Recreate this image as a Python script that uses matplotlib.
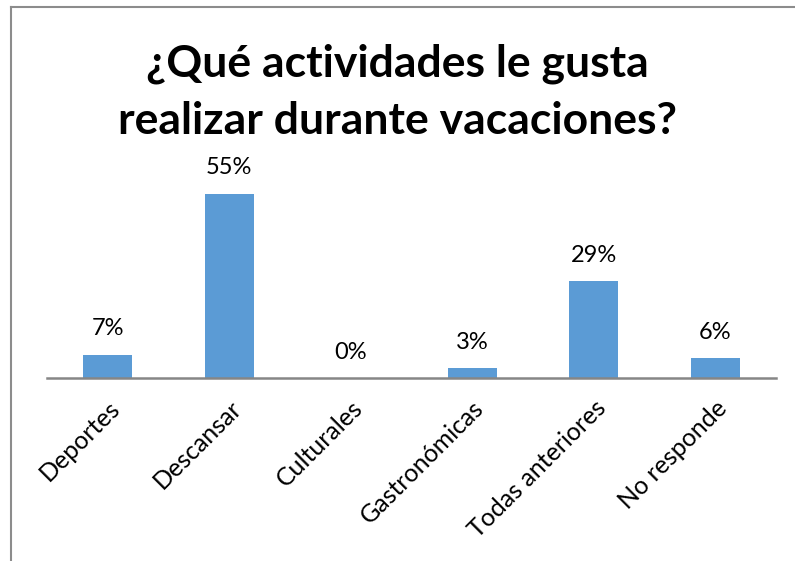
import matplotlib
matplotlib.use('Agg')
import matplotlib.pyplot as plt
from matplotlib.lines import Line2D

# datos de la encuesta
categorias = ['Deportes', 'Descansar', 'Culturales', 'Gastronómicas',
              'Todas anteriores', 'No responde']
porcentajes = [7, 55, 0, 3, 29, 6]
titulo = '¿Qué actividades le gusta\nrealizar durante vacaciones?'

plt.rcParams['font.family'] = ['Lato', 'DejaVu Sans']

fig = plt.figure(figsize=(7.95, 5.61), dpi=100)
ax = fig.add_axes([47/795, 1 - 378/561, (776 - 47)/795, (378 - 177)/561])

x = range(len(categorias))
ax.bar(x, porcentajes, width=0.4, color='#5B9BD5')
for xi, p in zip(x, porcentajes):
    ax.annotate(f'{p}%', (xi, p), xytext=(0, 11), textcoords='offset points',
                ha='center', va='bottom', fontsize=17, color='black')

ax.set_xlim(-0.5, len(categorias) - 0.5)
ax.set_ylim(0, 60)
ax.set_yticks([])
ax.set_xticks(list(x))
ax.set_xticklabels(categorias, rotation=45, ha='right', rotation_mode='anchor',
                   fontsize=18)
ax.tick_params(axis='x', length=0, pad=13)
for s in ['top', 'right', 'left']:
    ax.spines[s].set_visible(False)
ax.spines['bottom'].set_color('#868686')
ax.spines['bottom'].set_linewidth(1.8)

fig.text(0.5, 1 - 92/561, titulo, ha='center', va='center', fontsize=32,
         fontweight='bold', linespacing=1.5)

# marco del grafico (solo borde izquierdo y superior visibles)
fig.add_artist(Line2D([11/795, 11/795], [0, 1 - 7/561], color='#8C8C8C', lw=1.5))
fig.add_artist(Line2D([11/795, 1], [1 - 7/561, 1 - 7/561], color='#8C8C8C', lw=1.5))

fig.savefig('out.png', dpi=100)
